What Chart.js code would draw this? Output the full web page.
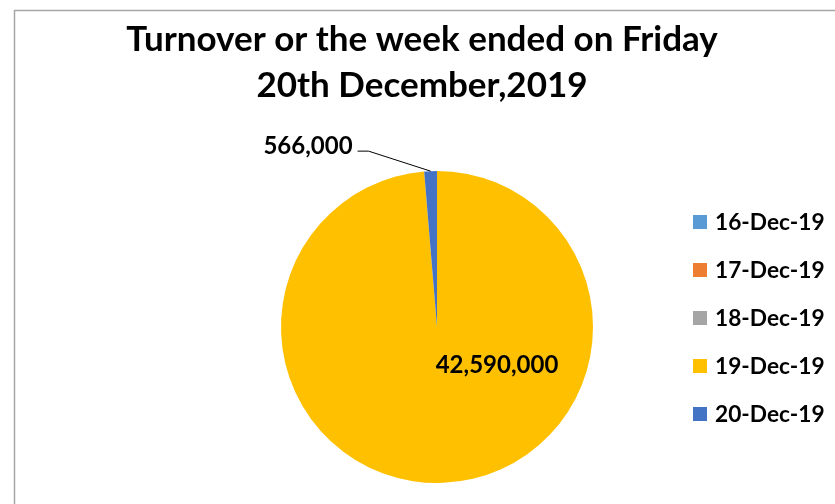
<!DOCTYPE html>
<html><head><meta charset="utf-8">
<script src="https://cdn.jsdelivr.net/npm/chart.js@4/dist/chart.umd.min.js"></script>
<style>html,body{margin:0;padding:0;background:#fff}#wrap{position:relative;width:835px;height:504px}</style>
</head><body><div id="wrap"><canvas id="c" width="835" height="504"></canvas></div>
<script>
const titleLines = ["Turnover or the week ended on Friday", "20th December,2019"];
const categories = ["16-Dec-19", "17-Dec-19", "18-Dec-19", "19-Dec-19", "20-Dec-19"];
const turnover = [0, 0, 0, 42590000, 566000];
const colors = ["#5B9BD5", "#ED7D31", "#A5A5A5", "#FFC000", "#4472C4"];
const FONT = "Lato, 'Open Sans', sans-serif";

const fmt = v => v.toLocaleString('en-US');

const decor = {
  id: 'decor',
  beforeDraw(chart) {
    const ctx = chart.ctx;
    ctx.save();
    ctx.fillStyle = '#fff';
    ctx.fillRect(0, 0, chart.width, chart.height);
    ctx.strokeStyle = '#a6a6a6';
    ctx.lineWidth = 1.5;
    ctx.beginPath();
    ctx.moveTo(14.5, 504); ctx.lineTo(14.5, 10.5); ctx.lineTo(835, 10.5);
    ctx.stroke();
    ctx.restore();
  },
  afterDraw(chart) {
    const ctx = chart.ctx;
    ctx.save();
    // title
    ctx.fillStyle = '#000';
    ctx.textAlign = 'center';
    ctx.textBaseline = 'alphabetic';
    ctx.font = "bold 35px " + FONT;
    ctx.fillText(titleLines[0], 422, 51);
    ctx.fillText(titleLines[1], 422, 97);
    // legend
    ctx.font = "bold 22.7px " + FONT;
    ctx.textAlign = 'left';
    ctx.textBaseline = 'middle';
    categories.forEach((c, i) => {
      const y = 222 + i * 48;
      ctx.fillStyle = colors[i];
      ctx.fillRect(693, y - 7, 14, 14);
      ctx.fillStyle = '#000';
      ctx.fillText(c, 715, y + 1);
    });
    // data labels
    const meta = chart.getDatasetMeta(0);
    const big = meta.data[3].getProps(['x', 'y'], true);
    ctx.font = "bold 24px " + FONT;
    ctx.textAlign = 'center';
    ctx.fillText(fmt(turnover[3]), big.x + 60, big.y + 38);
    const a = meta.data[4].getProps(['x', 'y', 'startAngle', 'endAngle', 'outerRadius'], true);
    const mid = (a.startAngle + a.endAngle) / 2;
    const ex = a.x + Math.cos(mid) * a.outerRadius;
    const ey = a.y + Math.sin(mid) * a.outerRadius;
    ctx.strokeStyle = '#000';
    ctx.lineWidth = 1;
    ctx.beginPath();
    ctx.moveTo(ex, ey); ctx.lineTo(ex - 62, ey - 20); ctx.lineTo(ex - 73, ey - 20);
    ctx.stroke();
    ctx.textAlign = 'right';
    ctx.fillText(fmt(turnover[4]), ex - 78, ey - 25);
    ctx.restore();
  }
};

new Chart(document.getElementById('c'), {
  type: 'pie',
  data: {
    labels: categories,
    datasets: [{ data: turnover, backgroundColor: colors, borderWidth: 0 }]
  },
  options: {
    responsive: false,
    animation: false,
    layout: { padding: { left: 281, right: 242, top: 171, bottom: 21 } },
    plugins: { legend: { display: false }, title: { display: false }, tooltip: { enabled: false } }
  },
  plugins: [decor]
});
</script></body></html>
